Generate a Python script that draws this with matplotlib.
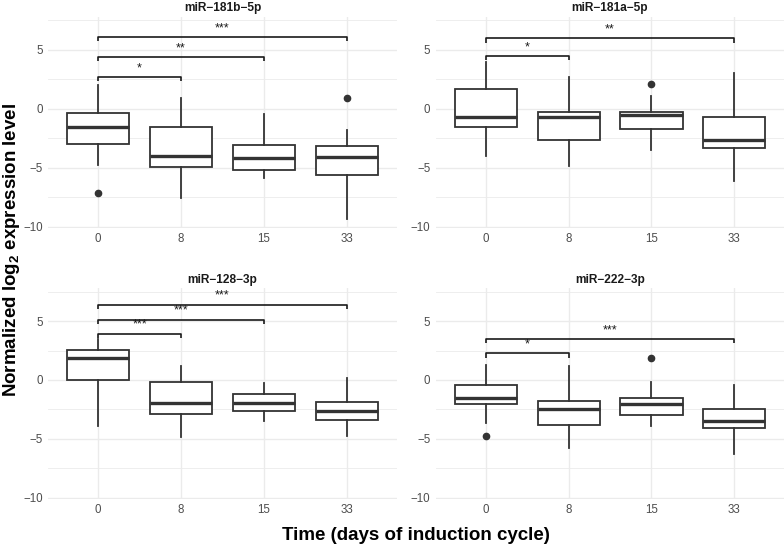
import matplotlib
matplotlib.use('Agg')
import matplotlib.pyplot as plt

plt.rcParams['font.family'] = ['Liberation Sans', 'DejaVu Sans']
plt.rcParams['mathtext.fontset'] = 'custom'
plt.rcParams['mathtext.rm'] = 'Liberation Sans:bold'
plt.rcParams['mathtext.bf'] = 'Liberation Sans:bold'
plt.rcParams['mathtext.default'] = 'bf'

days = ['0', '8', '15', '33']
titles = ['miR−181b−5p', 'miR−181a−5p', 'miR−128−3p', 'miR−222−3p']

# miR-181b-5p
b181_whislo = [-4.80, -7.57, -5.88, -9.32]
b181_q1 = [-3.02, -4.97, -5.20, -5.65]
b181_med = [-1.55, -3.98, -4.21, -4.07]
b181_q3 = [-0.40, -1.53, -3.11, -3.14]
b181_whishi = [2.03, 0.90, -0.45, -1.84]
b181_fliers = [[-7.18], [], [], [0.90]]
b181_pairs = [(0, 1), (0, 2), (0, 3)]
b181_sig_y = [2.66, 4.35, 6.05]
b181_sig = ['*', '**', '***']

# miR-181a-5p
a181_whislo = [-4.04, -4.83, -3.47, -6.10]
a181_q1 = [-1.55, -2.63, -1.75, -3.31]
a181_med = [-0.71, -0.73, -0.54, -2.66]
a181_q3 = [1.64, -0.31, -0.25, -0.73]
a181_whishi = [3.95, 2.68, 1.05, 3.05]
a181_fliers = [[], [], [2.12], []]
a181_pairs = [(0, 1), (0, 3)]
a181_sig_y = [4.46, 5.96]
a181_sig = ['*', '**']

# miR-128-3p
m128_whislo = [-3.93, -4.86, -3.53, -4.77]
m128_q1 = [-0.03, -2.91, -2.63, -3.39]
m128_med = [1.89, -1.95, -1.95, -2.66]
m128_q3 = [2.57, -0.20, -1.16, -1.84]
m128_whishi = [3.50, 1.16, -0.25, 0.20]
m128_fliers = [[], [], [], []]
m128_pairs = [(0, 1), (0, 2), (0, 3)]
m128_sig_y = [3.93, 5.14, 6.41]
m128_sig = ['***', '***', '***']

# miR-222-3p
m222_whislo = [-3.70, -5.76, -3.93, -6.33]
m222_q1 = [-2.03, -3.81, -2.99, -4.10]
m222_med = [-1.55, -2.43, -2.03, -3.50]
m222_q3 = [-0.45, -1.78, -1.55, -2.49]
m222_whishi = [1.24, 1.16, -0.17, -0.45]
m222_fliers = [[-4.75], [], [1.86], []]
m222_pairs = [(0, 1), (0, 3)]
m222_sig_y = [2.26, 3.47]
m222_sig = ['*', '***']

panels = [
    (b181_whislo, b181_q1, b181_med, b181_q3, b181_whishi, b181_fliers, b181_pairs, b181_sig_y, b181_sig),
    (a181_whislo, a181_q1, a181_med, a181_q3, a181_whishi, a181_fliers, a181_pairs, a181_sig_y, a181_sig),
    (m128_whislo, m128_q1, m128_med, m128_q3, m128_whishi, m128_fliers, m128_pairs, m128_sig_y, m128_sig),
    (m222_whislo, m222_q1, m222_med, m222_q3, m222_whishi, m222_fliers, m222_pairs, m222_sig_y, m222_sig),
]

W, H = 784, 546
fig = plt.figure(figsize=(W / 100, H / 100), dpi=100)

rects = [
    (48.3, 16.7, 396.7, 227.7),
    (436.0, 16.7, 784.0, 227.7),
    (48.3, 288.3, 396.7, 498.7),
    (436.0, 288.3, 784.0, 498.7),
]

line_col = '#333333'
grid_col = '#EBEBEB'
tick_col = '#4D4D4D'

for (x0, y0, x1, y1), title, p in zip(rects, titles, panels):
    whislo, q1, med, q3, whishi, fliers, pairs, sig_y, sig = p
    ax = fig.add_axes([x0 / W, 1 - y1 / H, (x1 - x0) / W, (y1 - y0) / H])
    stats = []
    for i in range(len(days)):
        stats.append(dict(med=med[i], q1=q1[i], q3=q3[i], whislo=whislo[i],
                          whishi=whishi[i], fliers=fliers[i], label=days[i]))
    pos = list(range(1, len(days) + 1))
    ax.bxp(stats, positions=pos, widths=0.75, showcaps=False, patch_artist=True,
           boxprops=dict(facecolor='white', edgecolor=line_col, linewidth=1.3),
           whiskerprops=dict(color=line_col, linewidth=1.3),
           medianprops=dict(color=line_col, linewidth=2.4, solid_capstyle='butt'),
           flierprops=dict(marker='o', markersize=4.5, markerfacecolor=line_col,
                           markeredgecolor=line_col),
           zorder=3)
    # significance brackets
    tick = 0.35
    for (a, b), yy, lab in zip(pairs, sig_y, sig):
        xa, xb = pos[a], pos[b]
        ax.plot([xa, xa, xb, xb], [yy - tick, yy, yy, yy - tick], color='#1a1a1a',
                linewidth=1.2, solid_capstyle='butt', zorder=4)
        ax.text((xa + xb) / 2, yy + 0.25, lab, ha='center', va='bottom',
                fontsize=9, color='#1a1a1a', zorder=5)
    ax.set_xlim(0.4, 4.6)
    ax.set_ylim(-10.1, 7.8)
    ax.set_yticks([-10, -5, 0, 5])
    ax.set_yticklabels(['−10', '−5', '0', '5'])
    ax.set_yticks([-7.5, -2.5, 2.5, 7.5], minor=True)
    ax.set_xticks(pos)
    ax.set_xticklabels(days)
    ax.grid(True, which='major', color=grid_col, linewidth=1.0, zorder=0)
    ax.grid(True, which='minor', axis='y', color=grid_col, linewidth=0.6, zorder=0)
    ax.set_axisbelow(True)
    for s in ax.spines.values():
        s.set_visible(False)
    ax.tick_params(which='both', length=0, labelsize=8.3, labelcolor=tick_col, pad=4)
    ax.set_title(title, fontsize=8.6, fontweight='bold', color='#1a1a1a', pad=4)

fig.text(416 / W, 1 - 536 / H, 'Time (days of induction cycle)', ha='center', va='center',
         fontsize=13.5, fontweight='bold', color='black')
fig.text(12 / W, 1 - 250 / H, r'Normalized log$_{2}$ expression level', ha='center',
         va='center', rotation=90, fontsize=13.5, fontweight='bold', color='black')

fig.savefig('out.png', dpi=100)
